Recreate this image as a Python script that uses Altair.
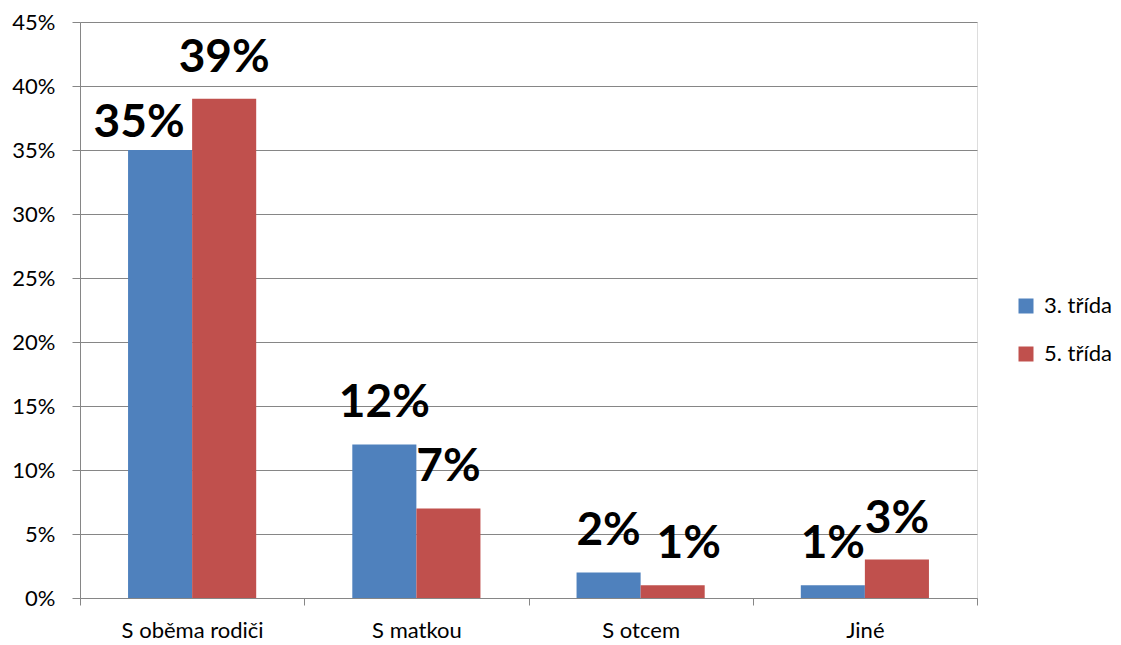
import altair as alt
import pandas as pd

categories = ["S oběma rodiči", "S matkou", "S otcem", "Jiné"]
series = ["3. třída", "5. třída"]
values_3 = [0.35, 0.12, 0.02, 0.01]
values_5 = [0.39, 0.07, 0.01, 0.03]
colors = ["#4F81BD", "#C0504D"]

rows = []
for i, c in enumerate(categories):
    rows.append({"cat": c, "series": series[0], "value": values_3[i], "idx": i})
    rows.append({"cat": c, "series": series[1], "value": values_5[i], "idx": i})
df = pd.DataFrame(rows)

FONT = "Lato"
FS = 22

x = alt.X("cat:N", sort=categories, title=None,
          scale=alt.Scale(paddingInner=0, paddingOuter=0),
          axis=alt.Axis(labelAngle=0, labelFontSize=FS, labelColor="#000000",
                        labelFont=FONT, labelPadding=15, tickBand="extent",
                        tickSize=7, tickColor="#868686", domainColor="#868686",
                        grid=False))
xo = alt.XOffset("series:N", sort=series,
                 scale=alt.Scale(paddingOuter=0.75, paddingInner=0))
y = alt.Y("value:Q", title=None,
          scale=alt.Scale(domain=[0, 0.45]),
          axis=alt.Axis(format=".0%", values=[i * 0.05 for i in range(10)],
                        labelFontSize=FS, labelColor="#000000", labelFont=FONT,
                        labelPadding=17, tickSize=8, tickColor="#868686",
                        domainColor="#868686", gridColor="#868686",
                        gridWidth=1, gridOpacity=1))

base = alt.Chart(df)

bars = base.mark_bar(stroke=None).encode(
    x=x, xOffset=xo, y=y,
    color=alt.Color("series:N", sort=series,
                    scale=alt.Scale(domain=series, range=colors),
                    legend=alt.Legend(title=None, orient="none", legendX=935,
                                      legendY=273, symbolType="square",
                                      symbolSize=225, symbolStrokeWidth=0,
                                      labelFontSize=FS, labelFont=FONT,
                                      labelColor="#000000", rowPadding=26,
                                      labelOffset=7)),
)

def text_layer(filt, dx, dy):
    return base.transform_filter(filt).mark_text(
        fontSize=46, fontWeight="bold", font=FONT, color="#000000",
        baseline="alphabetic", align="center", dx=dx, dy=dy,
    ).encode(x=x, xOffset=xo, y=y, text=alt.Text("value:Q", format=".0%"))

is_a = "datum.idx == 0 && datum.series == '3. třída'"
is_b = "datum.idx == 2 && datum.series == '5. třída'"

t_main = text_layer(f"!({is_a}) && !({is_b})", 0, -27)
t_a = text_layer(is_a, -21, -13)
t_b = text_layer(is_b, 16, -27)

chart = alt.layer(bars, t_main, t_a, t_b).properties(
    width=897, height=576,
    autosize=alt.AutoSizeParams(type="none"),
    padding={"left": 72, "top": 14, "right": 136, "bottom": 47},
).configure_view(stroke=None).configure(font=FONT)

chart.save("out.html", embed_options={"renderer": "svg", "actions": False})
